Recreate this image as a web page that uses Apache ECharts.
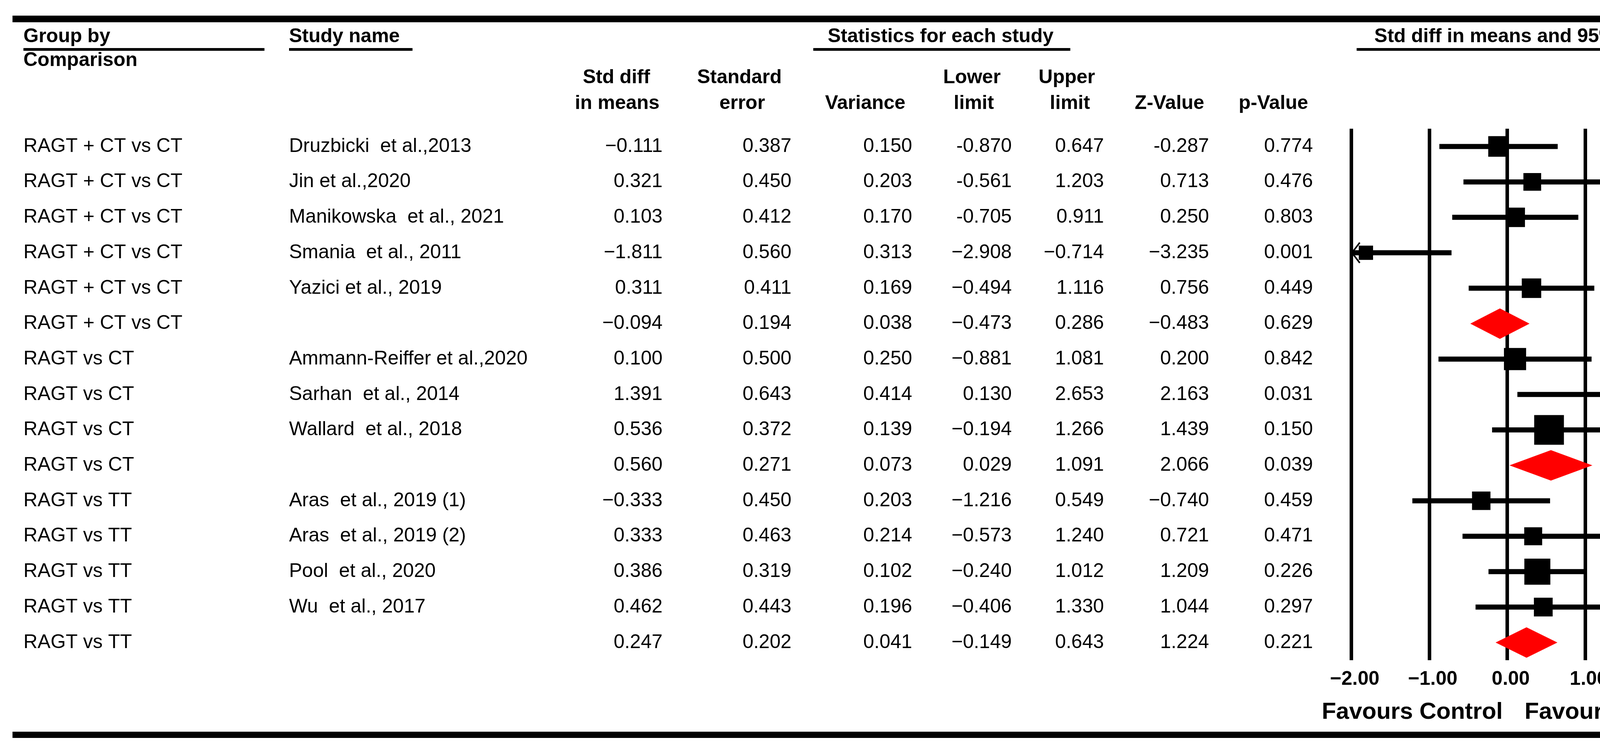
<!DOCTYPE html>
<html><head><meta charset="utf-8">
<script src="https://cdn.jsdelivr.net/npm/echarts@6/dist/echarts.min.js"></script>
<style>html,body{margin:0;padding:0;background:#fff}#c{width:4386px;height:1925px}</style>
</head><body><div id="c"></div>
<script>
// ---------- data (as printed in the table) ----------
const groups = ['RAGT + CT vs CT','RAGT + CT vs CT','RAGT + CT vs CT','RAGT + CT vs CT','RAGT + CT vs CT','RAGT + CT vs CT',
  'RAGT vs CT','RAGT vs CT','RAGT vs CT','RAGT vs CT',
  'RAGT vs TT','RAGT vs TT','RAGT vs TT','RAGT vs TT','RAGT vs TT'];
const studies = ['Druzbicki  et al.,2013','Jin et al.,2020','Manikowska  et al., 2021','Smania  et al., 2011','Yazici et al., 2019','',
  'Ammann-Reiffer et al.,2020','Sarhan  et al., 2014','Wallard  et al., 2018','',
  'Aras  et al., 2019 (1)','Aras  et al., 2019 (2)','Pool  et al., 2020','Wu  et al., 2017',''];
const stdDiff = ['\u22120.111','0.321','0.103','\u22121.811','0.311','\u22120.094','0.100','1.391','0.536','0.560','\u22120.333','0.333','0.386','0.462','0.247'];
const stdErr = ['0.387','0.450','0.412','0.560','0.411','0.194','0.500','0.643','0.372','0.271','0.450','0.463','0.319','0.443','0.202'];
const variance = ['0.150','0.203','0.170','0.313','0.169','0.038','0.250','0.414','0.139','0.073','0.203','0.214','0.102','0.196','0.041'];
const lowerLimit = ['-0.870','-0.561','-0.705','\u22122.908','\u22120.494','\u22120.473','\u22120.881','0.130','\u22120.194','0.029','\u22121.216','\u22120.573','\u22120.240','\u22120.406','\u22120.149'];
const upperLimit = ['0.647','1.203','0.911','\u22120.714','1.116','0.286','1.081','2.653','1.266','1.091','0.549','1.240','1.012','1.330','0.643'];
const zValue = ['-0.287','0.713','0.250','\u22123.235','0.756','\u22120.483','0.200','2.163','1.439','2.066','\u22120.740','0.721','1.209','1.044','1.224'];
const pValue = ['0.774','0.476','0.803','0.001','0.449','0.629','0.842','0.031','0.150','0.039','0.459','0.471','0.226','0.297','0.221'];
const xTickLabels = ['\u22122.00','\u22121.00','0.00','1.00','2.00'];

// ---------- helpers ----------
const num = s => parseFloat(s.replace('\u2212','-'));
const FONT = "'Liberation Sans', Arial, Helvetica, sans-serif";
const N = groups.length;
const rowIdx = groups.map((_, i) => String(i));

// relative weight within its subgroup (summary row = row with empty study name)
function groupVarFor(i) {
  for (let j = i; j < N; j++) if (studies[j] === '') return num(variance[j]);
  return num(variance[i]);
}
const forestData = groups.map((g, i) => {
  const isSum = studies[i] === '' ? 1 : 0;
  const size = isSum ? 0 : 105 * Math.sqrt(groupVarFor(i) / num(variance[i]));
  return [num(stdDiff[i]), num(lowerLimit[i]), num(upperLimit[i]), i, isSum, size];
});

// ---------- layout ----------
const GL = 3459, GT = 329.6, GW = 799, GH = 1360.5;

function textAxis(data, x, align) {
  return {
    type: 'category', gridIndex: 0, position: 'left', inverse: true,
    offset: GL - x, data: data,
    axisLine: {show: false}, axisTick: {show: false}, splitLine: {show: false},
    axisLabel: {show: true, interval: 0, margin: 0, align: align, color: '#000',
      fontSize: 50, fontFamily: FONT, fontWeight: 'normal', verticalAlign: 'middle'}
  };
}
function T(text, x, y, align, size, weight) {
  return {type: 'text', x: x, y: y, silent: true,
    style: {text: text, fill: '#000', align: align || 'left', verticalAlign: 'middle',
      font: (weight || 'bold') + ' ' + (size || 50) + 'px ' + FONT}};
}
function R(x, y, w, h) {
  return {type: 'rect', silent: true, shape: {x: x, y: y, width: w, height: h}, style: {fill: '#000'}};
}
function renderItem(params, api) {
  const est = api.value(0), lo = api.value(1), hi = api.value(2), row = api.value(3);
  const isSum = api.value(4), s = api.value(5);
  const c = api.coord([est, row]);
  const y = c[1];
  const xMin = api.coord([-2, row])[0], xMax = api.coord([2, row])[0];
  const children = [];
  if (isSum) {
    const xl = api.coord([lo, row])[0], xh = api.coord([hi, row])[0];
    children.push({type: 'polygon', shape: {points: [[xl, y], [c[0], y - 39], [xh, y], [c[0], y + 39]]},
      style: {fill: '#ff0000'}});
  } else {
    const xl = api.coord([Math.max(lo, -2), row])[0], xh = api.coord([Math.min(hi, 2), row])[0];
    children.push({type: 'line', shape: {x1: xl, y1: y, x2: xh, y2: y},
      style: {stroke: '#000', lineWidth: 13, lineCap: 'butt'}});
    children.push({type: 'rect', shape: {x: c[0] - s / 2, y: y - s / 2, width: s, height: s}, style: {fill: '#000'}});
    if (lo < -2) children.push({type: 'polyline', shape: {points: [[xMin + 22, y - 26], [xMin + 2, y], [xMin + 22, y + 26]]},
      style: {stroke: '#000', lineWidth: 4, fill: null}});
    if (hi > 2) children.push({type: 'polyline', shape: {points: [[xMax - 22, y - 26], [xMax - 2, y], [xMax - 22, y + 26]]},
      style: {stroke: '#000', lineWidth: 4, fill: null}});
  }
  return {type: 'group', children: children};
}

const chart = echarts.init(document.getElementById('c'), null, {renderer: 'canvas'});
chart.setOption({
  backgroundColor: '#fff',
  animation: false,
  grid: {left: GL, top: GT, width: GW, height: GH, containLabel: false, outerBoundsMode: 'none'},
  xAxis: {
    type: 'value', min: -2, max: 2, interval: 1, position: 'bottom',
    axisLine: {show: false}, axisTick: {show: false},
    splitLine: {show: true, showMinLine: true, showMaxLine: true, lineStyle: {color: '#000', width: 9}},
    axisLabel: {show: true, margin: 24, color: '#000', fontSize: 50, fontWeight: 'bold', fontFamily: FONT,
      padding: [0, 0, 0, 18], showMinLabel: true, showMaxLabel: true,
      formatter: v => xTickLabels[Math.round(v) + 2]}
  },
  yAxis: [
    {type: 'category', gridIndex: 0, inverse: true, data: rowIdx, show: false},
    textAxis(groups, 60, 'left'),
    textAxis(studies, 740, 'left'),
    textAxis(stdDiff, 1696, 'right'),
    textAxis(stdErr, 2026, 'right'),
    textAxis(variance, 2335, 'right'),
    textAxis(lowerLimit, 2590, 'right'),
    textAxis(upperLimit, 2826, 'right'),
    textAxis(zValue, 3095, 'right'),
    textAxis(pValue, 3361, 'right')
  ],
  series: [{
    type: 'custom', xAxisIndex: 0, yAxisIndex: 0, renderItem: renderItem, clip: false,
    encode: {x: [0, 1, 2], y: 3}, data: forestData, z: 5
  }],
  graphic: {elements: [
    R(32, 40, 4317, 17),
    R(32, 1873, 4317, 16),
    T('Group by', 60, 94, 'left'),
    T('Comparison', 60, 155, 'left'),
    R(60, 123, 617, 7),
    T('Study name', 740, 94, 'left'),
    R(740, 123, 316, 7),
    T('Statistics for each study', 2408, 94, 'center'),
    R(2082, 123, 658, 7),
    T('Std diff in means and 95% CI', 3860, 94, 'center'),
    R(3473, 123, 781, 7),
    T('Std diff', 1578, 199, 'center'),
    T('in means', 1580, 265, 'center'),
    T('Standard', 1893, 199, 'center'),
    T('error', 1900, 265, 'center'),
    T('Variance', 2215, 265, 'center'),
    T('Lower', 2488, 199, 'center'),
    T('limit', 2493, 265, 'center'),
    T('Upper', 2731, 199, 'center'),
    T('limit', 2739, 265, 'center'),
    T('Z-Value', 2994, 265, 'center'),
    T('p-Value', 3260, 265, 'center'),
    T('Favours Control', 3847, 1823, 'right', 60),
    T('Favours RAGT', 3903, 1823, 'left', 60)
  ]}
});
</script></body></html>
